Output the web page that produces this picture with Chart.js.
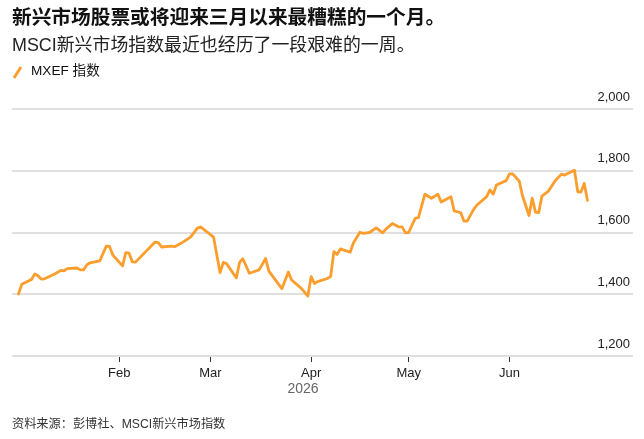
<!DOCTYPE html>
<html>
<head>
<meta charset="utf-8">
<script src="https://cdn.jsdelivr.net/npm/chart.js@4.4.1/dist/chart.umd.min.js"></script>
<style>
  html, body { margin:0; padding:0; background:#fff; }
  body { width:644px; height:439px; position:relative; overflow:hidden;
         font-family:"Liberation Sans","Noto Sans CJK SC",sans-serif; }
  #wrap { position:absolute; left:0; top:0; width:644px; height:439px; }
  .t { position:absolute; white-space:nowrap; }
  #title { left:12px; top:5px; font-size:19.7px; font-weight:bold; color:#111; line-height:24px; }
  #sub { left:12px; top:34px; font-size:17.9px; color:#222; line-height:22px; }
  #leg { left:12px; top:62px; font-size:13.6px; color:#111; line-height:18px; }
  #leg svg { vertical-align:-4px; margin-right:6px; }
  #src { left:12px; top:416px; font-size:12.2px; color:#333; line-height:16px; }
</style>
</head>
<body>
<div id="wrap"><canvas id="c" width="644" height="439"></canvas></div>
<div class="t" id="title">新兴市场股票或将迎来三月以来最糟糕的一个月。</div>
<div class="t" id="sub">MSCI新兴市场指数最近也经历了一段艰难的一周。</div>
<div class="t" id="leg"><svg width="13" height="15"><line x1="2" y1="14" x2="9" y2="3" stroke="#fb9e2d" stroke-width="3"/></svg>MXEF 指数</div>
<div class="t" id="src">资料来源：彭博社、MSCI新兴市场指数</div>
<script>
// ---- data ----
const seriesName = "MXEF 指数";
const dates = [
 "2026-01-01","2026-01-02","2026-01-05","2026-01-06","2026-01-07","2026-01-08","2026-01-09","2026-01-12",
 "2026-01-14","2026-01-15","2026-01-16","2026-01-19","2026-01-20","2026-01-21","2026-01-22","2026-01-23",
 "2026-01-26","2026-01-28","2026-01-29","2026-01-30","2026-02-02","2026-02-03","2026-02-04","2026-02-05",
 "2026-02-06","2026-02-12","2026-02-13","2026-02-14","2026-02-17","2026-02-18","2026-02-20","2026-02-23",
 "2026-02-25","2026-02-26","2026-03-02","2026-03-04","2026-03-05","2026-03-06","2026-03-09","2026-03-10",
 "2026-03-11","2026-03-13","2026-03-16","2026-03-18","2026-03-19","2026-03-23","2026-03-25","2026-03-26",
 "2026-03-29","2026-03-31","2026-04-01","2026-04-02","2026-04-03","2026-04-06","2026-04-07","2026-04-08",
 "2026-04-09","2026-04-10","2026-04-13","2026-04-14","2026-04-16","2026-04-17","2026-04-19","2026-04-21",
 "2026-04-23","2026-04-24","2026-04-26","2026-04-28","2026-04-29","2026-04-30","2026-05-01","2026-05-03",
 "2026-05-04","2026-05-06","2026-05-08","2026-05-10","2026-05-11","2026-05-14","2026-05-15","2026-05-17",
 "2026-05-18","2026-05-19","2026-05-21","2026-05-22","2026-05-25","2026-05-26","2026-05-27","2026-05-28",
 "2026-05-31","2026-06-01","2026-06-02","2026-06-04","2026-06-05","2026-06-07","2026-06-08","2026-06-09",
 "2026-06-10","2026-06-11","2026-06-13","2026-06-15","2026-06-17","2026-06-18","2026-06-21","2026-06-22",
 "2026-06-23","2026-06-24","2026-06-25"
];
const mxef = [
 1401,1432,1448,1466,1460,1449,1450,1465,
 1477,1476,1483,1485,1479,1479,1495,1502,
 1508,1556,1555,1527,1492,1535,1533,1505,
 1504,1569,1567,1553,1556,1554,1565,1586,
 1614,1618,1585,1470,1503,1499,1453,1503,
 1515,1468,1479,1516,1475,1418,1472,1446,
 1419,1394,1457,1435,1441,1451,1457,1538,
 1529,1547,1536,1566,1601,1597,1600,1615,
 1599,1611,1629,1618,1618,1599,1600,1646,
 1648,1724,1711,1724,1699,1716,1670,1664,
 1637,1637,1675,1689,1716,1738,1724,1754,
 1768,1790,1790,1767,1720,1655,1711,1666,
 1664,1718,1734,1767,1789,1786,1802,1732,
 1731,1759,1704
];
const monthTickDates = ["2026-02-01","2026-03-01","2026-04-01","2026-05-01","2026-06-01"];
const monthTickLabels = ["Feb","Mar","Apr","May","Jun"];
const yTicks = [1200,1400,1600,1800,2000];
const yearLabel = "2026";
const axisStart = "2025-12-30";
const axisEnd = "2026-07-09";

// ---- helpers ----
const base = Date.UTC(2026,0,1);
function dayOf(s){ const [y,m,d]=s.split("-").map(Number); return (Date.UTC(y,m-1,d)-base)/86400000; }
const points = dates.map((d,i)=>({x:dayOf(d), y:mxef[i]}));
const monthDays = monthTickDates.map(dayOf);

const yearPlugin = {
  id:'yearLabel',
  afterDraw(chart){
    const xs = chart.scales.x, ctx = chart.ctx;
    const cx = (xs.getPixelForValue(points[0].x)+xs.getPixelForValue(points[points.length-1].x))/2;
    ctx.save();
    ctx.font = '14px "Liberation Sans","Noto Sans CJK SC",sans-serif';
    ctx.fillStyle = '#666';
    ctx.textAlign='center'; ctx.textBaseline='middle';
    ctx.fillText(yearLabel, cx, 389);
    ctx.restore();
  }
};

new Chart(document.getElementById('c'), {
  type:'line',
  data:{ datasets:[{ label:seriesName, data:points, borderColor:'#fb9e2d', borderWidth:2.8,
        pointRadius:0, tension:0, fill:false, borderJoinStyle:'round', borderCapStyle:'round' }]},
  options:{
    responsive:false, animation:false, devicePixelRatio:1,
    layout:{ padding:{ left:12, right:11, top:109, bottom:53 } },
    plugins:{ legend:{display:false}, tooltip:{enabled:false} },
    scales:{
      x:{
        type:'linear', min:dayOf(axisStart), max:dayOf(axisEnd),
        afterBuildTicks(s){ s.ticks = monthDays.map(v=>({value:v})); },
        afterFit(s){ s.height = 30; },
        border:{ display:false },
        grid:{ drawOnChartArea:false, drawTicks:true, tickLength:6, color:'#333', lineWidth:1 },
        ticks:{ autoSkip:false, maxRotation:0, padding:4, color:'#222',
          font:{ size:13, family:'"Liberation Sans","Noto Sans CJK SC",sans-serif' },
          callback(v){ const i = monthDays.indexOf(v); return i>=0 ? monthTickLabels[i] : ''; } }
      },
      y:{
        position:'right', min:yTicks[0], max:yTicks[yTicks.length-1],
        afterBuildTicks(s){ s.ticks = yTicks.map(v=>({value:v})); },
        afterFit(s){ s.width = 0; },
        border:{ display:false },
        grid:{ color:'#e0e0e0', lineWidth:2, drawTicks:false },
        ticks:{ mirror:true, padding:-3, labelOffset:-12, color:'#222',
          font:{ size:13, family:'"Liberation Sans","Noto Sans CJK SC",sans-serif' },
          callback(v){ return v.toLocaleString('en-US'); } }
      }
    }
  },
  plugins:[yearPlugin]
});
</script>
</body>
</html>
